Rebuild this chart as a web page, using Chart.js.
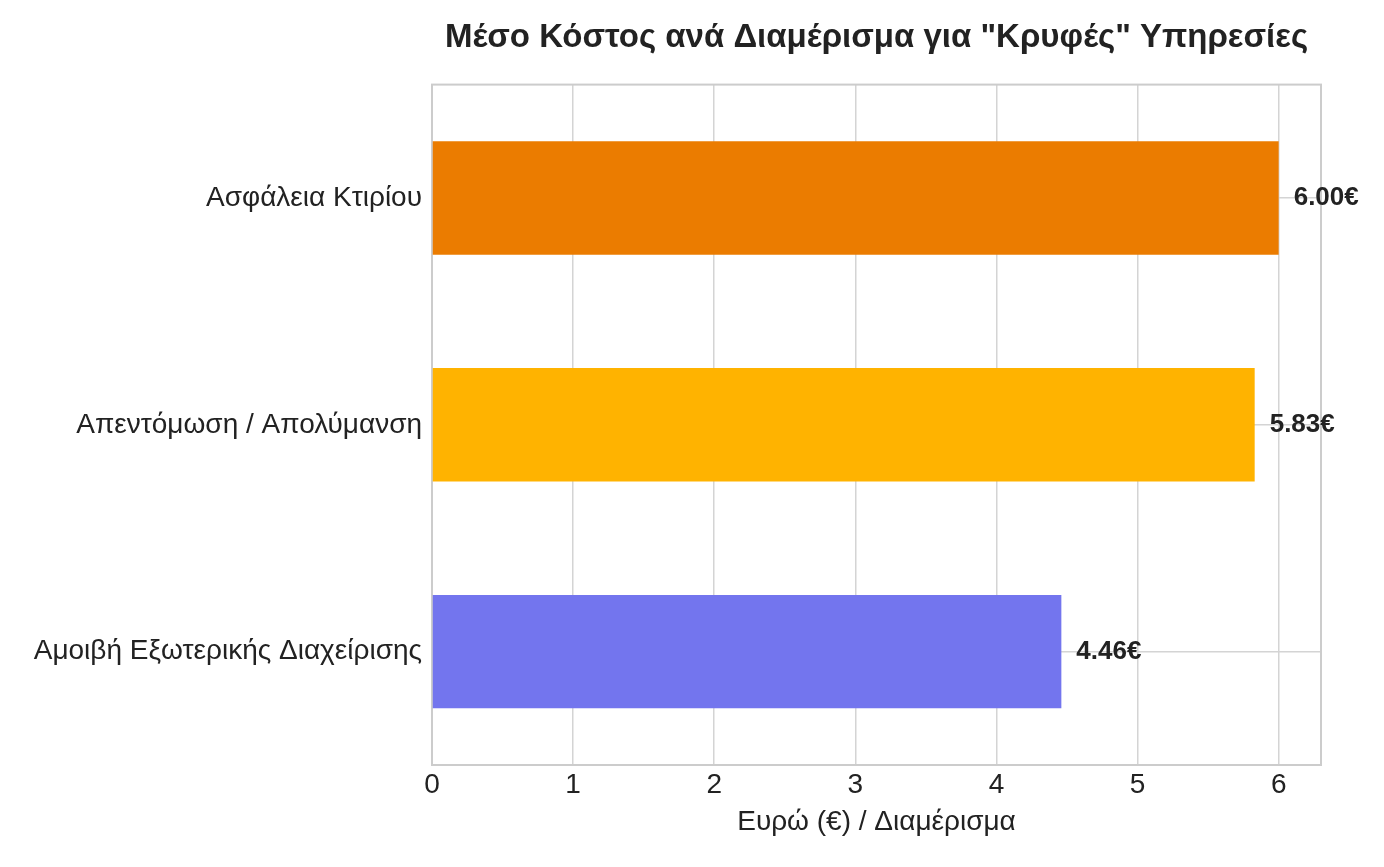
<!DOCTYPE html>
<html>
<head>
<meta charset="utf-8">
<script src="https://cdn.jsdelivr.net/npm/chart.js@4/dist/chart.umd.min.js"></script>
<style>
  html, body { margin: 0; padding: 0; background: #fff; }
  #wrap { width: 1384px; height: 867px; }
</style>
</head>
<body>
<div id="wrap"><canvas id="costChart"></canvas></div>
<script>
// Data
const services = ['Ασφάλεια Κτιρίου', 'Απεντόμωση / Απολύμανση', 'Αμοιβή Εξωτερικής Διαχείρισης'];
const costs = [6.00, 5.83, 4.46];
const barColors = ['#EB7C00', '#FFB300', '#7375EE'];
const xTicks = [0, 1, 2, 3, 4, 5, 6];

const FONT = "'Liberation Sans', Arial, sans-serif";
const TEXT = '#222222';

// Value labels at the end of each bar
const valueLabels = {
    id: 'valueLabels',
    afterDatasetsDraw(chart) {
        const ctx = chart.ctx;
        const meta = chart.getDatasetMeta(0);
        ctx.save();
        ctx.font = 'bold 26px ' + FONT;
        ctx.fillStyle = TEXT;
        ctx.textAlign = 'left';
        ctx.textBaseline = 'middle';
        meta.data.forEach((bar, i) => {
            ctx.fillText(costs[i].toFixed(2) + '€', bar.x + 15, bar.y);
        });
        ctx.restore();
    }
};

// Box around the plot area
const plotFrame = {
    id: 'plotFrame',
    beforeDatasetsDraw(chart) {
        const a = chart.chartArea;
        const ctx = chart.ctx;
        ctx.save();
        ctx.strokeStyle = '#cccccc';
        ctx.lineWidth = 2;
        ctx.strokeRect(a.left, a.top, a.right - a.left, a.bottom - a.top);
        ctx.restore();
    }
};

const chartCtx = document.getElementById('costChart').getContext('2d');
const costChart = new Chart(chartCtx, {
    type: 'bar',
    data: {
        labels: services,
        datasets: [{
            data: costs,
            backgroundColor: barColors,
            borderWidth: 0,
            categoryPercentage: 1,
            barPercentage: 0.5
        }]
    },
    options: {
        indexAxis: 'y',
        responsive: true,
        maintainAspectRatio: false,
        animation: false,
        layout: { padding: { left: 0, right: 63, top: 0, bottom: 0 } },
        plugins: {
            legend: { display: false },
            tooltip: { enabled: false },
            title: {
                display: true,
                fullSize: false,
                text: 'Μέσο Κόστος ανά Διαμέρισμα για "Κρυφές" Υπηρεσίες',
                color: TEXT,
                font: { family: FONT, size: 33, weight: 'bold', lineHeight: 1.2 },
                padding: { top: 18, bottom: 27 }
            }
        },
        scales: {
            x: {
                min: 0,
                max: 6.3,
                afterBuildTicks(scale) {
                    scale.ticks = xTicks.map(v => ({ value: v }));
                },
                afterFit(scale) { scale.height = 102; },
                grid: { color: '#d4d4d4', lineWidth: 1.5, drawTicks: false },
                border: { display: false },
                ticks: {
                    color: TEXT,
                    padding: 3,
                    font: { family: FONT, size: 28 }
                },
                title: {
                    display: true,
                    text: 'Ευρώ (€) / Διαμέρισμα',
                    color: TEXT,
                    font: { family: FONT, size: 28 },
                    padding: { top: 4, bottom: 28 }
                }
            },
            y: {
                afterFit(scale) { scale.width = 432; },
                grid: { color: '#d4d4d4', lineWidth: 1.5, drawTicks: false, offset: false },
                border: { display: false },
                ticks: {
                    color: TEXT,
                    padding: 10,
                    font: { family: FONT, size: 28 }
                }
            }
        }
    },
    plugins: [plotFrame, valueLabels]
});
</script>
</body>
</html>
